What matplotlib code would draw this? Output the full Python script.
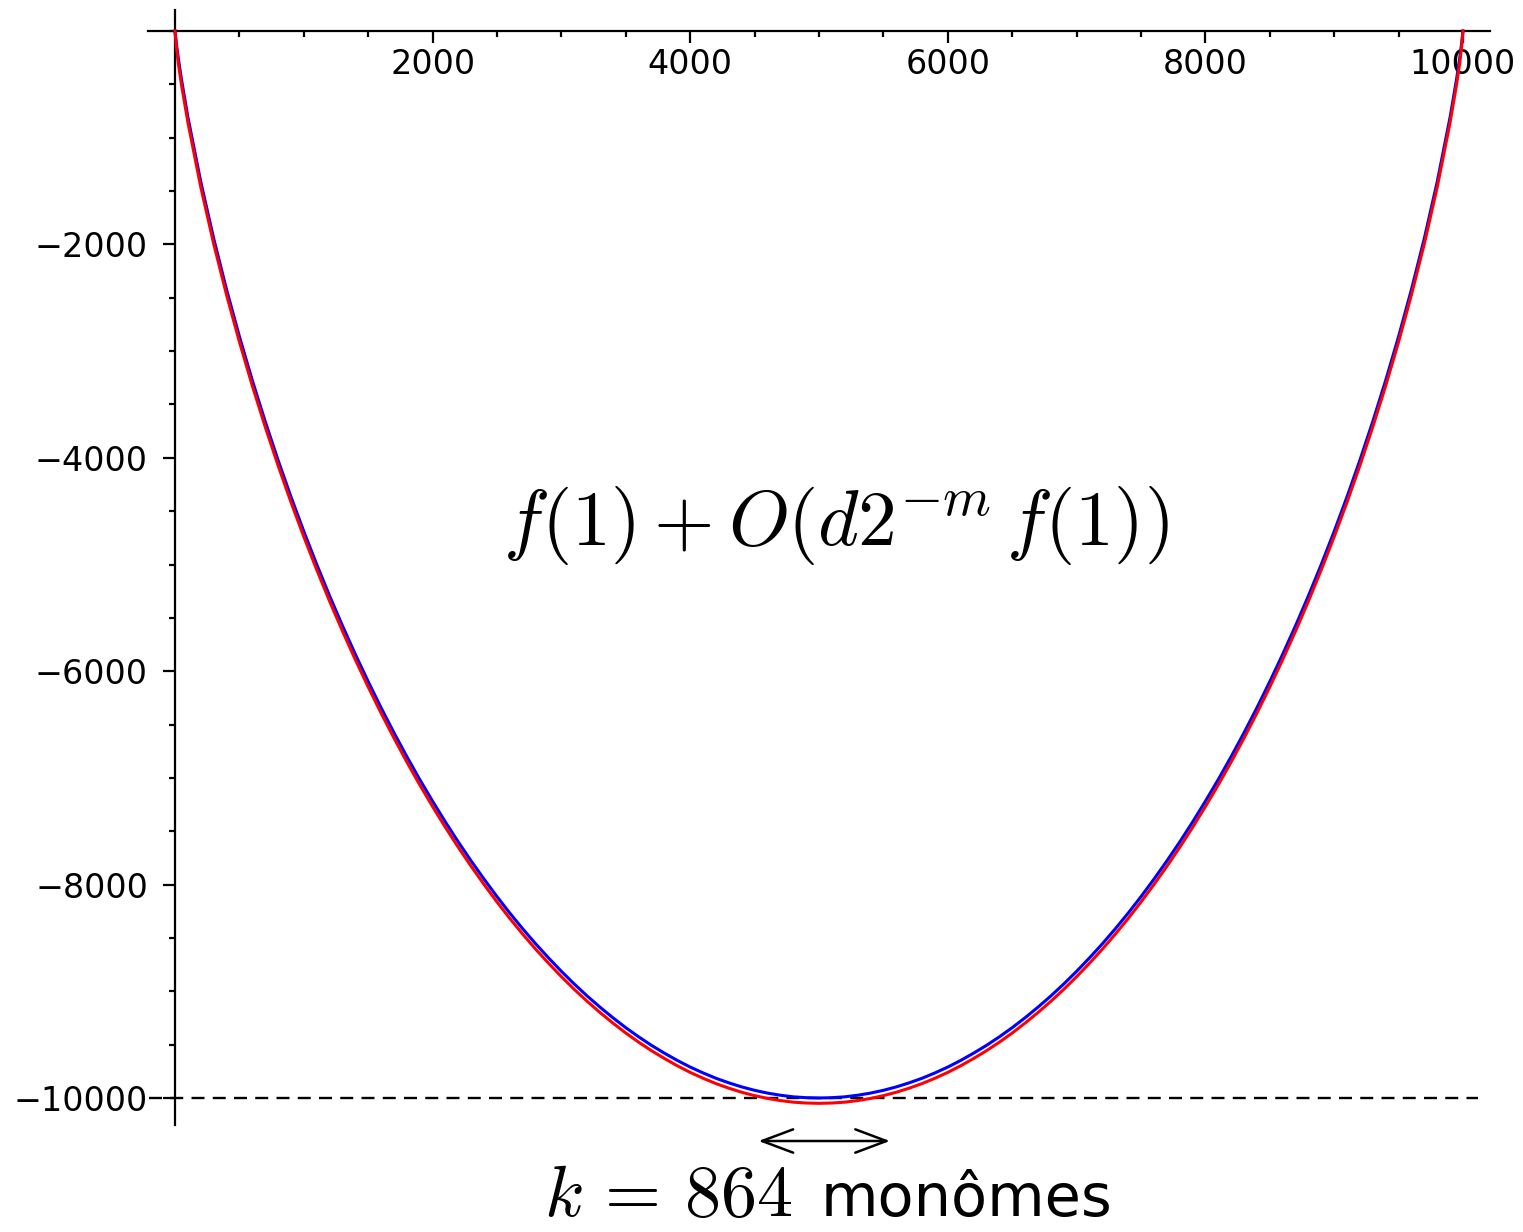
import matplotlib
matplotlib.use("Agg")
import matplotlib.pyplot as plt
from matplotlib.ticker import MultipleLocator, FixedLocator

plt.rcParams['mathtext.fontset'] = 'cm'

# values, left half (curves are symmetric around x = 5000)
x_half = [0, 10, 25, 50] + list(range(100, 5001, 100))
blue_half = [0, -114, -252, -454, -808, -1414, -1944, -2423, -2864, -3275, -3659, -4022,
             -4365, -4690, -4999, -5294, -5574, -5842, -6098, -6343, -6577, -6801, -7015,
             -7219, -7415, -7602, -7780, -7950, -8113, -8268, -8415, -8555, -8687, -8813,
             -8932, -9044, -9149, -9248, -9341, -9427, -9507, -9580, -9648, -9710, -9765,
             -9815, -9858, -9896, -9928, -9954, -9974, -9989, -9997, -10000]
red_half = [0, -140, -300, -504, -858, -1464, -1994, -2473, -2914, -3325, -3709, -4072,
            -4415, -4740, -5049, -5344, -5624, -5892, -6148, -6393, -6627, -6851, -7065,
            -7269, -7465, -7652, -7830, -8000, -8163, -8318, -8465, -8605, -8737, -8863,
            -8982, -9094, -9199, -9298, -9391, -9477, -9557, -9630, -9698, -9760, -9815,
            -9865, -9908, -9946, -9978, -10004, -10024, -10039, -10047, -10050]

x_vals = x_half + [10000 - x for x in x_half[-2::-1]]
blue_vals = blue_half + blue_half[-2::-1]
red_vals = red_half + red_half[-2::-1]

level = -10000
dash_span = (-200, 10120)
arrow_span = (4530, 5551)
arrow_y = -10403

x_ticks = [2000, 4000, 6000, 8000, 10000]
y_ticks = [-10000, -8000, -6000, -4000, -2000]

fig = plt.figure(figsize=(15.23, 12.32), dpi=100)
ax = fig.add_axes([148 / 1523, 1 - 1125 / 1232, (1490 - 148) / 1523, (1125 - 10) / 1232])

ax.plot(x_vals, blue_vals, color='blue', lw=2.2, zorder=3)
ax.plot(x_vals, red_vals, color='red', lw=2.2, zorder=4)
ax.plot(dash_span, [level, level], color='black', lw=1.7, ls=(0, (5.5, 3.5)),
        clip_on=False, zorder=2)

ax.set_xlim(-210, 10210)
ax.set_ylim(-10253, 197)

for s in ['top', 'right']:
    ax.spines[s].set_visible(False)
ax.spines['left'].set_position(('data', 0))
ax.spines['bottom'].set_position(('data', 0))
for s in ['left', 'bottom']:
    ax.spines[s].set_linewidth(1.6)

ax.xaxis.set_major_locator(FixedLocator(x_ticks))
ax.yaxis.set_major_locator(FixedLocator(y_ticks))
ax.xaxis.set_minor_locator(MultipleLocator(500))
ax.yaxis.set_minor_locator(MultipleLocator(500))
ax.tick_params(which='major', length=8.5, width=1.6, labelsize=24)
ax.tick_params(which='minor', length=4.5, width=1.6)
ax.tick_params(axis='x', which='major', pad=4)
ax.tick_params(axis='y', which='major', pad=11)

ax.annotate('', xy=(arrow_span[0], arrow_y), xytext=(arrow_span[1], arrow_y),
            arrowprops=dict(arrowstyle='<->,head_length=0.4,head_width=0.15',
                            mutation_scale=56, lw=1.8, color='black',
                            shrinkA=0, shrinkB=0),
            annotation_clip=False)

ax.text(5132, -4630, r'$f(1) + O(d2^{-m}\,f(1))$', fontsize=56, ha='center', va='center')
ax.text(4790, -11110, r'$k\,=\,864$', fontsize=52, ha='right', va='baseline')
ax.text(5010, -11110, 'monômes', fontsize=42.5, ha='left', va='baseline')

fig.savefig('out.png', dpi=100)
